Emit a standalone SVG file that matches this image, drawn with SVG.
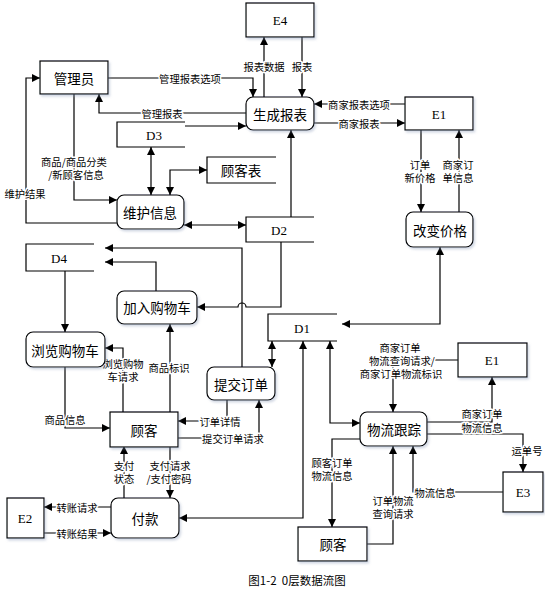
<svg xmlns="http://www.w3.org/2000/svg" width="545" height="591" viewBox="0 0 545 591">
<defs>
<marker id="a" viewBox="0 0 10 10" refX="10" refY="5" markerWidth="10" markerHeight="8" markerUnits="userSpaceOnUse" orient="auto-start-reverse"><path d="M0,0 L10,5 L0,10 z" fill="#000"/></marker>
<filter id="sh" x="-10%" y="-10%" width="130%" height="140%"><feDropShadow dx="1.5" dy="2" stdDeviation="1.2" flood-color="#8090b0" flood-opacity="0.35"/></filter>
</defs>
<style>
.n{fill:#fff;stroke:#000;stroke-width:1.2}
.o{fill:none;stroke:#000;stroke-width:1.2}
.t{font-family:"Noto Sans CJK SC","Liberation Sans",sans-serif;font-size:13.5px;text-anchor:middle;dominant-baseline:central;fill:#000}
.s{font-family:"Liberation Serif","Noto Sans CJK SC",serif;font-size:13px;text-anchor:middle;dominant-baseline:central;fill:#000}
.l{font-family:"Noto Sans CJK SC","Liberation Sans",sans-serif;font-size:10.3px;text-anchor:middle;dominant-baseline:central;fill:#000;stroke:#fff;stroke-width:3;paint-order:stroke;stroke-linejoin:round}
.c path{fill:none;stroke:#000;stroke-width:1.2;marker-end:url(#a)}
.c path.b{marker-start:url(#a)}
</style>
<rect width="545" height="591" fill="#fff"/>
<g class="c" id="connectors">
<path d="M108,78 H253 V97"/>
<path d="M246,113 H99 V94"/>
<path d="M264,97 V37"/>
<path d="M302,37 V97"/>
<path d="M185,126 H246"/>
<path d="M405,104 H314"/>
<path d="M314,123 H405"/>
<path d="M421,130 V212"/>
<path d="M459,212 V130"/>
<path d="M291,217 V130"/>
<path class="b" d="M151,147 V195"/>
<path class="b" d="M170,195 V170 H207"/>
<path d="M74,94 V200 H117"/>
<path d="M117,223 H26 V78 H40"/>
<path class="b" d="M184,225 H246"/>
<path class="b" d="M440,247 V324 H342"/>
<path d="M281,242 V307 H246 A4,4 0 0 0 238,307 H197"/>
<path d="M242,367 V248 H105"/>
<path d="M156,291 V262 H105"/>
<path d="M65,271 V332"/>
<path d="M123,412 V348 H105"/>
<path d="M170,412 V324"/>
<path d="M65,367 V428 H110"/>
<path d="M227,400 V421 H178"/>
<path d="M178,438 H259 V400"/>
<path class="b" d="M272,341 V367"/>
<path class="b" d="M303,341 V518 H179"/>
<path class="b" d="M330,341 V423 H360"/>
<path d="M458,360 H393 V412"/>
<path d="M427,422 H492 V377"/>
<path d="M427,434 H523 V472"/>
<path d="M503,492 H413 V446"/>
<path d="M367,544 H393 V446"/>
<path d="M360,439 H332 V527"/>
<path d="M124,498 V446"/>
<path d="M170,446 V498"/>
<path d="M111,507 H44"/>
<path d="M44,533 H111"/>
</g>
<g id="labels">
<text class="l" x="190" y="78">管理报表选项</text>
<text class="l" x="162" y="113">管理报表</text>
<text class="l" x="264" y="66">报表数据</text>
<text class="l" x="302" y="66">报表</text>
<text class="l" x="359" y="104">商家报表选项</text>
<text class="l" x="359" y="123">商家报表</text>
<text class="l" x="420" y="164">订单<tspan x="420" dy="13">新价格</tspan></text>
<text class="l" x="458" y="164">商家订<tspan x="458" dy="13">单信息</tspan></text>
<text class="l" x="74" y="161">商品/商品分类<tspan x="76" dy="13">/新顾客信息</tspan></text>
<text class="l" x="25" y="193">维护结果</text>
<text class="l" x="123" y="363">浏览购物<tspan x="123" dy="13">车请求</tspan></text>
<text class="l" x="169" y="367">商品标识</text>
<text class="l" x="65" y="419">商品信息</text>
<text class="l" x="220" y="421">订单详情</text>
<text class="l" x="233" y="438">提交订单请求</text>
<text class="l" x="400" y="347">商家订单<tspan x="402" dy="13">物流查询请求/</tspan><tspan x="401" dy="13">商家订单物流标识</tspan></text>
<text class="l" x="482" y="413">商家订单<tspan x="482" dy="14">物流信息</tspan></text>
<text class="l" x="527" y="450">运单号</text>
<text class="l" x="435" y="492">物流信息</text>
<text class="l" x="393" y="500">订单物流<tspan x="393" dy="13">查询请求</tspan></text>
<text class="l" x="332" y="462">顾客订单<tspan x="332" dy="13">物流信息</tspan></text>
<text class="l" x="124" y="465">支付<tspan x="124" dy="13">状态</tspan></text>
<text class="l" x="170" y="465">支付请求<tspan x="169" dy="13">/支付密码</tspan></text>
<text class="l" x="77" y="507">转账请求</text>
<text class="l" x="77" y="533">转账结果</text>
</g>
<g id="n-admin"><rect class="n" filter="url(#sh)" x="40" y="61" width="68" height="33"/><text class="t" x="74" y="78">管理员</text></g>
<g id="n-report"><rect class="n" filter="url(#sh)" x="246" y="97" width="68" height="33" rx="7"/><text class="t" x="280" y="114">生成报表</text></g>
<g id="n-e4"><rect class="n" filter="url(#sh)" x="246" y="3" width="68" height="34"/><text class="s" x="280" y="20">E4</text></g>
<g id="n-e1a"><rect class="n" filter="url(#sh)" x="405" y="97" width="68" height="33"/><text class="s" x="439" y="114">E1</text></g>
<g id="n-price"><rect class="n" filter="url(#sh)" x="406" y="212" width="67" height="35" rx="7"/><text class="t" x="440" y="230">改变价格</text></g>
<g id="n-d3"><rect x="117" y="122" width="68" height="25" fill="#fff"/><path class="o" d="M185,122 H117 V147 H185"/><text class="s" x="154" y="135">D3</text></g>
<g id="n-custtable"><rect x="207" y="157" width="69" height="26" fill="#fff"/><path class="o" d="M276,157 H207 V183 H276"/><text class="t" x="241" y="170">顾客表</text></g>
<g id="n-maint"><rect class="n" filter="url(#sh)" x="117" y="195" width="67" height="34" rx="7"/><text class="t" x="150" y="212">维护信息</text></g>
<g id="n-d2"><rect x="246" y="217" width="68" height="25" fill="#fff"/><path class="o" d="M314,217 H246 V242 H314"/><text class="s" x="279" y="230">D2</text></g>
<g id="n-d4"><rect x="26" y="244" width="68" height="27" fill="#fff"/><path class="o" d="M94,244 H26 V271 H94"/><text class="s" x="59" y="258">D4</text></g>
<g id="n-addcart"><rect class="n" filter="url(#sh)" x="117" y="291" width="80" height="33" rx="7"/><text class="t" x="157" y="307">加入购物车</text></g>
<g id="n-browse"><rect class="n" filter="url(#sh)" x="26" y="332" width="79" height="35" rx="7"/><text class="t" x="65" y="350">浏览购物车</text></g>
<g id="n-cust"><rect class="n" filter="url(#sh)" x="110" y="412" width="68" height="35"/><text class="t" x="144" y="430">顾客</text></g>
<g id="n-submit"><rect class="n" filter="url(#sh)" x="207" y="367" width="68" height="33" rx="7"/><text class="t" x="241" y="384">提交订单</text></g>
<g id="n-d1"><rect x="268" y="314" width="69" height="27" fill="#fff"/><path class="o" d="M337,314 H268 V341 H337"/><text class="s" x="302" y="328">D1</text></g>
<g id="n-e1b"><rect class="n" filter="url(#sh)" x="458" y="343" width="69" height="34"/><text class="s" x="492" y="360">E1</text></g>
<g id="n-logistics"><rect class="n" filter="url(#sh)" x="360" y="412" width="67" height="34" rx="7"/><text class="t" x="394" y="429">物流跟踪</text></g>
<g id="n-e3"><rect class="n" filter="url(#sh)" x="503" y="472" width="40" height="40"/><text class="s" x="523" y="492">E3</text></g>
<g id="n-cust2"><rect class="n" filter="url(#sh)" x="298" y="527" width="69" height="34"/><text class="t" x="333" y="544">顾客</text></g>
<g id="n-pay"><rect class="n" filter="url(#sh)" x="111" y="498" width="68" height="40" rx="7"/><text class="t" x="145" y="518">付款</text></g>
<g id="n-e2"><rect class="n" filter="url(#sh)" x="7" y="498" width="37" height="40"/><text class="s" x="25" y="518">E2</text></g>
<text class="t" x="297" y="580" xml:space="preserve" style="font-size:11.5px;white-space:pre">图1-2  0层数据流图</text>
</svg>
